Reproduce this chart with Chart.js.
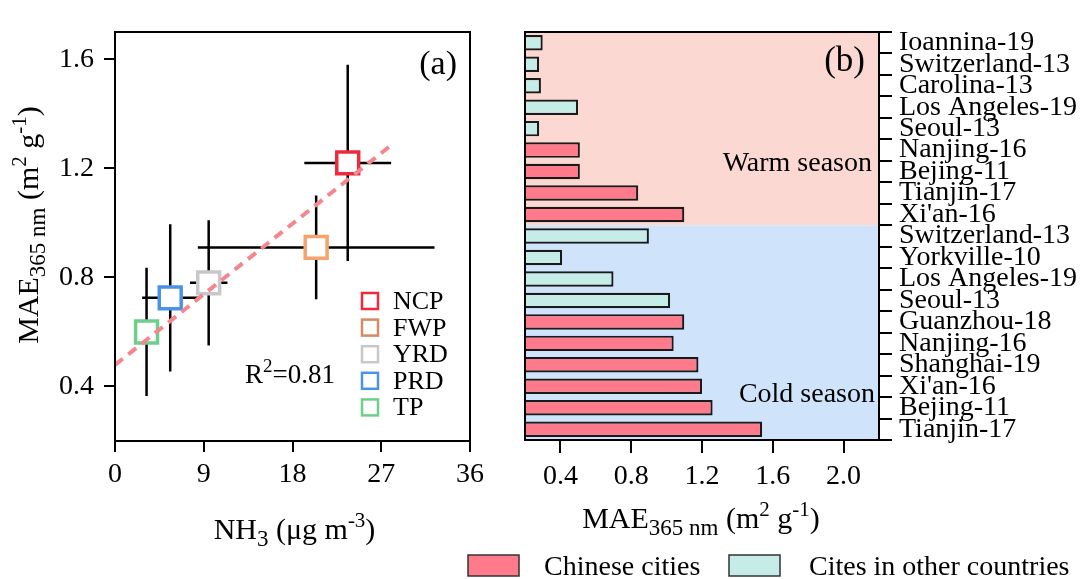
<!DOCTYPE html>
<html>
<head>
<meta charset="utf-8">
<script src="https://cdn.jsdelivr.net/npm/chart.js@4"></script>
<style>
  html, body { margin: 0; padding: 0; background: #fff; }
  #wrap { position: relative; width: 1080px; height: 579px; overflow: hidden; }
  canvas { position: absolute; top: 0; }
  #chartA { left: 0; }
  #chartB { left: 440px; }
</style>
</head>
<body>
<div id="wrap">
  <canvas id="chartA" width="500" height="579"></canvas>
  <canvas id="chartB" width="640" height="579"></canvas>
</div>
<script>
const serif = "'Liberation Serif', 'Times New Roman', serif";
Chart.defaults.font.family = serif;
Chart.defaults.color = '#000';
Chart.defaults.animation = false;

// panel (a)
const regions = ['NCP', 'FWP', 'YRD', 'PRD', 'TP'];
const nh3 = [23.6, 20.4, 9.5, 5.6, 3.2];
const nh3Err = [4.4, 12.0, 1.9, 2.85, 0.9];
const maeRegion = [1.22, 0.91, 0.78, 0.725, 0.60];
const maeRegionErr = [0.36, 0.19, 0.23, 0.27, 0.235];
const fitX = [0, 27.9];
const fitY = [0.479, 1.282];
const nh3Ticks = [0, 9, 18, 27, 36];
const maeTicksA = [0.4, 0.8, 1.2, 1.6];
const markerColors = ['#ee2b3d', '#f6a46e', '#c8c8c8', '#4b93e6', '#6fce8b'];
const legendColors = ['#ee2b3d', '#d48a62', '#c8c8c8', '#4b93e6', '#6fce8b'];

// panel (b)
const cities = ['Ioannina-19', 'Switzerland-13', 'Carolina-13', 'Los Angeles-19', 'Seoul-13',
  'Nanjing-16', 'Bejing-11', 'Tianjin-17', "Xi'an-16",
  'Switzerland-13', 'Yorkville-10', 'Los Angeles-19', 'Seoul-13', 'Guanzhou-18',
  'Nanjing-16', 'Shanghai-19', "Xi'an-16", 'Bejing-11', 'Tianjin-17'];
const cityMae = [0.30, 0.28, 0.29, 0.50, 0.28, 0.51, 0.51, 0.84, 1.10,
  0.90, 0.41, 0.70, 1.02, 1.10, 1.04, 1.18, 1.20, 1.26, 1.54];
const isChinese = [false, false, false, false, false, true, true, true, true,
  false, false, false, false, true, true, true, true, true, true];
const season = ['warm', 'warm', 'warm', 'warm', 'warm', 'warm', 'warm', 'warm', 'warm',
  'cold', 'cold', 'cold', 'cold', 'cold', 'cold', 'cold', 'cold', 'cold', 'cold'];
const maeTicksB = [0.4, 0.8, 1.2, 1.6, 2.0];
const groupLabels = ['Chinese cities', 'Cites in other countries'];
const groupColors = ['#ff7b8b', '#c6ece8'];

// text with sub/superscripts: parts = [[text, 'sub'|'sup'|''], ...]
function richText(ctx, parts, x, y, size, align) {
  const fonts = parts.map(p => (p[1] === 'sub' ? Math.round(size * 0.76) : p[1] === 'sup' ? Math.round(size * 0.7) : size) + 'px ' + serif);
  const widths = [];
  let total = 0;
  parts.forEach((p, i) => {
    ctx.font = fonts[i];
    const w = ctx.measureText(p[0]).width;
    widths.push(w);
    total += w;
  });
  let cx = align === 'left' ? x : x - total / 2;
  ctx.textAlign = 'left';
  ctx.textBaseline = 'alphabetic';
  ctx.fillStyle = '#000';
  parts.forEach((p, i) => {
    ctx.font = fonts[i];
    const dy = p[1] === 'sub' ? size * 0.24 : (p[1] === 'sup' ? -size * 0.4 : 0);
    ctx.fillText(p[0], cx, y + dy);
    cx += widths[i];
  });
}

const maeTitle = [['MAE', ''], ['365 nm', 'sub'], [' (m', ''], ['2', 'sup'], [' g', ''], ['-1', 'sup'], [')', '']];

const axisStyle = (tickLen) => ({
  grid: { drawOnChartArea: false, drawTicks: true, tickLength: tickLen, color: '#000', lineWidth: 2 },
  border: { display: true, color: '#000', width: 2 },
});

const panelA = {
  id: 'panelA',
  beforeDatasetsDraw(chart) {
    const ctx = chart.ctx, xs = chart.scales.x, ys = chart.scales.y;
    ctx.save();
    ctx.strokeStyle = '#000';
    ctx.lineWidth = 2.5;
    nh3.forEach((v, i) => {
      const px = xs.getPixelForValue(v), py = ys.getPixelForValue(maeRegion[i]);
      ctx.beginPath();
      ctx.moveTo(xs.getPixelForValue(v - nh3Err[i]), py);
      ctx.lineTo(xs.getPixelForValue(v + nh3Err[i]), py);
      ctx.moveTo(px, ys.getPixelForValue(maeRegion[i] - maeRegionErr[i]));
      ctx.lineTo(px, ys.getPixelForValue(maeRegion[i] + maeRegionErr[i]));
      ctx.stroke();
    });
    ctx.restore();
  },
  afterDraw(chart) {
    const ctx = chart.ctx, a = chart.chartArea;
    ctx.save();
    ctx.strokeStyle = '#000';
    ctx.lineWidth = 2;
    ctx.strokeRect(a.left, a.top, a.right - a.left, a.bottom - a.top);

    // legend
    ctx.font = '26px ' + serif;
    regions.forEach((r, i) => {
      const y = a.top + 269 + i * 26.6;
      ctx.strokeStyle = legendColors[i];
      ctx.lineWidth = 2.5;
      ctx.strokeRect(a.left + 247, y - 8, 16, 16);
      ctx.fillStyle = '#000';
      ctx.textAlign = 'left';
      ctx.textBaseline = 'alphabetic';
      ctx.fillText(r, a.left + 278, y + 8);
    });

    richText(ctx, [['R', ''], ['2', 'sup'], ['=0.81', '']], a.left + 130, a.top + 351, 27, 'left');

    ctx.font = '34px ' + serif;
    ctx.textAlign = 'right';
    ctx.textBaseline = 'middle';
    ctx.fillText('(a)', a.right - 13, a.top + 33);

    richText(ctx, [['NH', ''], ['3', 'sub'], [' (\u03bcg m', ''], ['-3', 'sup'], [')', '']],
      (a.left + a.right) / 2 + 2, 539, 30);

    ctx.translate(38, 225);
    ctx.rotate(-Math.PI / 2);
    richText(ctx, maeTitle, 0, 0, 30);
    ctx.restore();
  }
};

new Chart(document.getElementById('chartA'), {
  type: 'scatter',
  data: {
    datasets: [
      {
        type: 'line',
        data: fitX.map((x, i) => ({ x: x, y: fitY[i] })),
        borderColor: '#f5858f',
        borderWidth: 4,
        borderDash: [10, 7],
        pointRadius: 0,
        fill: false,
        order: -1,
      },
      {
        data: nh3.map((x, i) => ({ x: x, y: maeRegion[i] })),
        pointStyle: 'rect',
        pointRadius: 15.5,
        pointBorderWidth: 3.5,
        pointBackgroundColor: '#fff',
        pointBorderColor: markerColors,
        order: 0,
      },
    ],
  },
  options: {
    responsive: false,
    layout: { padding: { top: 32, right: 30, left: 0, bottom: 0 } },
    plugins: { legend: { display: false }, tooltip: { enabled: false } },
    scales: {
      x: {
        type: 'linear', min: 0, max: 36, position: 'bottom',
        ...axisStyle(11),
        afterBuildTicks: s => { s.ticks = nh3Ticks.map(v => ({ value: v })); },
        afterFit: s => { s.height = 138; },
        ticks: { font: { size: 28 }, color: '#000', padding: 6, maxRotation: 0 },
      },
      y: {
        type: 'linear', min: 0.2, max: 1.7,
        ...axisStyle(11),
        afterBuildTicks: s => { s.ticks = maeTicksA.map(v => ({ value: v })); },
        afterFit: s => { s.width = 115; },
        ticks: { font: { size: 28 }, color: '#000', padding: 10, callback: v => v.toFixed(1) },
      },
    },
  },
  plugins: [panelA],
});

const panelB = {
  id: 'panelB',
  beforeDraw(chart) {
    const ctx = chart.ctx, a = chart.chartArea, ys = chart.scales.y;
    const lastWarm = season.lastIndexOf('warm');
    const split = (ys.getPixelForValue(lastWarm) + ys.getPixelForValue(lastWarm + 1)) / 2;
    ctx.save();
    ctx.fillStyle = '#fcd8d2';
    ctx.fillRect(a.left, a.top, a.right - a.left, split - a.top);
    ctx.fillStyle = '#cfe4fa';
    ctx.fillRect(a.left, split, a.right - a.left, a.bottom - split);
    ctx.restore();
  },
  afterDraw(chart) {
    const ctx = chart.ctx, a = chart.chartArea;
    ctx.save();
    ctx.strokeStyle = '#000';
    ctx.lineWidth = 2;
    ctx.strokeRect(a.left, a.top, a.right - a.left, a.bottom - a.top);

    ctx.fillStyle = '#000';
    ctx.font = '35px ' + serif;
    ctx.textAlign = 'right';
    ctx.textBaseline = 'middle';
    ctx.fillText('(b)', a.right - 14, a.top + 30);

    ctx.font = '28px ' + serif;
    ctx.textBaseline = 'alphabetic';
    ctx.fillText('Warm season', a.right - 7, a.top + 139);
    ctx.fillText('Cold season', a.right - 4, a.top + 370);

    richText(ctx, maeTitle, 261, 528, 30);

    // bottom legend
    ctx.font = '28px ' + serif;
    const boxX = [28, 289], textX = [104, 369];
    groupLabels.forEach((g, i) => {
      ctx.fillStyle = groupColors[i];
      ctx.fillRect(boxX[i], 555, 51, 21);
      ctx.strokeStyle = '#333';
      ctx.lineWidth = 1.5;
      ctx.strokeRect(boxX[i], 555, 51, 21);
      ctx.fillStyle = '#000';
      ctx.textAlign = 'left';
      ctx.fillText(g, textX[i], 575);
    });
    ctx.restore();
  }
};

new Chart(document.getElementById('chartB'), {
  type: 'bar',
  data: {
    labels: cities,
    datasets: [{
      data: cityMae,
      backgroundColor: isChinese.map(c => c ? groupColors[0] : groupColors[1]),
      borderColor: '#1a1a1a',
      borderWidth: 2.2,
      borderSkipped: false,
      barPercentage: 0.72,
      categoryPercentage: 1,
    }],
  },
  options: {
    indexAxis: 'y',
    responsive: false,
    layout: { padding: { top: 32, right: 0, left: 85, bottom: 0 } },
    plugins: { legend: { display: false }, tooltip: { enabled: false } },
    scales: {
      x: {
        type: 'linear', min: 0.2, max: 2.2, position: 'bottom',
        ...axisStyle(13),
        afterBuildTicks: s => { s.ticks = maeTicksB.map(v => ({ value: v })); },
        afterFit: s => { s.height = 139; },
        ticks: { font: { size: 28 }, color: '#000', padding: 7, maxRotation: 0, callback: v => v.toFixed(1) },
      },
      y: {
        type: 'category', position: 'right', offset: true,
        grid: { offset: true, drawOnChartArea: false, drawTicks: true, tickLength: 13, color: '#000', lineWidth: 2 },
        border: { display: true, color: '#000', width: 2 },
        afterFit: s => { s.width = 201; },
        ticks: { font: { size: 28 }, color: '#000', padding: 7, autoSkip: false },
      },
    },
  },
  plugins: [panelB],
});
</script>
</body>
</html>
